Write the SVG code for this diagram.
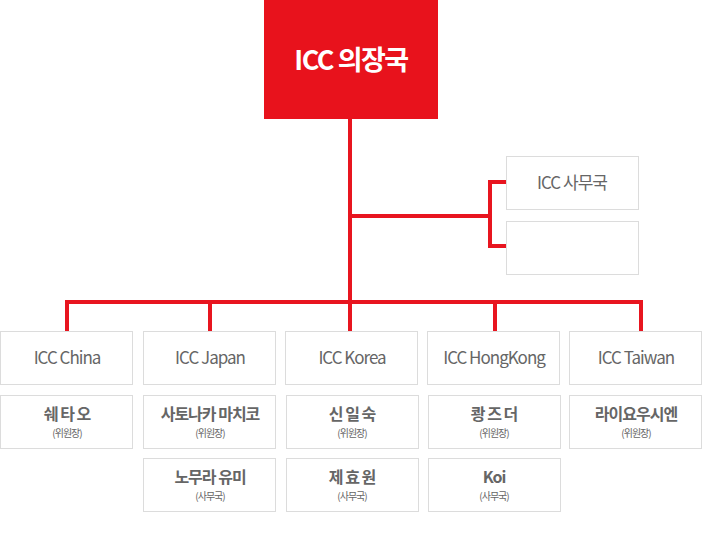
<svg xmlns="http://www.w3.org/2000/svg" width="702" height="541" viewBox="0 0 702 541">
<style>
.b{fill:#fff;stroke:#dcdcdc;stroke-width:1}
.t{font-family:"Noto Sans CJK KR","Noto Sans",sans-serif;fill:#666;text-anchor:middle;letter-spacing:-1px}
.h{font-size:17px}
.n{font-size:16px;font-weight:bold}
.s{font-size:10px}
.c{stroke:#e8151f;stroke-width:4;fill:none}
</style>
<rect width="702" height="541" fill="#fff"/>
<g id="connectors">
<path class="c" d="M350 119V331M67 331V302H641V331M210 302V331M495 302V331M350 216H490M506 182H490V246H506"/>
</g>
<g id="top"><rect x="264" y="0" width="174" height="119" fill="#e8121c"/><text x="351" y="70" font-family="Noto Sans CJK KR,sans-serif" font-size="27" font-weight="bold" fill="#fff" text-anchor="middle" letter-spacing="-1.5">ICC 의장국</text></g>
<g id="sec"><rect class="b" x="506.5" y="156.5" width="132" height="53"/><text class="t h" x="572" y="189">ICC 사무국</text></g>
<g id="sec2"><rect class="b" x="506.5" y="221.5" width="132" height="53"/></g>
<g id="china"><rect class="b" x="0.5" y="331.5" width="132" height="53"/><text class="t h" x="67" y="364">ICC China</text></g>
<g id="japan"><rect class="b" x="143.5" y="331.5" width="132" height="53"/><text class="t h" x="210" y="364">ICC Japan</text></g>
<g id="korea"><rect class="b" x="285.5" y="331.5" width="132" height="53"/><text class="t h" x="352" y="364">ICC Korea</text></g>
<g id="hk"><rect class="b" x="427.5" y="331.5" width="132" height="53"/><text class="t h" x="494" y="364">ICC HongKong</text></g>
<g id="tw"><rect class="b" x="569.5" y="331.5" width="132" height="53"/><text class="t h" x="636" y="364">ICC Taiwan</text></g>
<g id="china1"><rect class="b" x="0.5" y="395.5" width="132" height="53"/><text class="t n" x="67" y="420">쉐 타 오</text><text class="t s" x="67" y="437">(위원장)</text></g>
<g id="japan1"><rect class="b" x="143.5" y="395.5" width="132" height="53"/><text class="t n" x="210" y="420">사토나카 마치코</text><text class="t s" x="210" y="437">(위원장)</text></g>
<g id="korea1"><rect class="b" x="286.5" y="395.5" width="132" height="53"/><text class="t n" x="352" y="420">신 일 숙</text><text class="t s" x="352" y="437">(위원장)</text></g>
<g id="hk1"><rect class="b" x="428.5" y="395.5" width="132" height="53"/><text class="t n" x="494" y="420">쾅 즈 더</text><text class="t s" x="494" y="437">(위원장)</text></g>
<g id="tw1"><rect class="b" x="569.5" y="395.5" width="132" height="53"/><text class="t n" x="636" y="420">라이요우시엔</text><text class="t s" x="636" y="437">(위원장)</text></g>
<g id="japan2"><rect class="b" x="143.5" y="458.5" width="132" height="53"/><text class="t n" x="210" y="483">노무라 유미</text><text class="t s" x="210" y="500">(사무국)</text></g>
<g id="korea2"><rect class="b" x="286.5" y="458.5" width="132" height="53"/><text class="t n" x="352" y="483">제 효 원</text><text class="t s" x="352" y="500">(사무국)</text></g>
<g id="hk2"><rect class="b" x="428.5" y="458.5" width="132" height="53"/><text class="t n" x="494" y="483">Koi</text><text class="t s" x="494" y="500">(사무국)</text></g>
</svg>
